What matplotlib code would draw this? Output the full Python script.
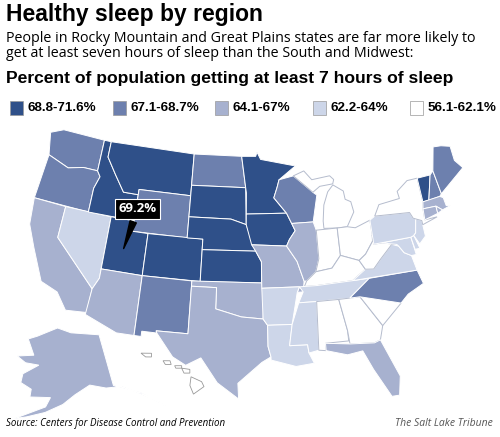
import numpy as np
import matplotlib.pyplot as plt
from matplotlib.patches import Polygon, Rectangle

# ---- datos: clase de color por estado (0 = mas alto ... 4 = mas bajo) ----
rangos = ["68.8-71.6%", "67.1-68.7%", "64.1-67%", "62.2-64%", "56.1-62.1%"]
colores = ["#2f5089", "#6d80ae", "#a7b1cf", "#cdd6e9", "#ffffff"]
estados = ["WA", "OR", "CA", "NV", "ID", "MT", "WY", "UT", "CO", "AZ", "NM",
           "ND", "SD", "NE", "KS", "OK", "TX", "MN", "IA", "MO", "AR", "LA",
           "WI", "IL", "MI", "MI2", "IN", "OH", "KY", "TN", "MS", "AL", "GA",
           "FL", "SC", "NC", "VA", "WV", "MD", "DE", "PA", "NJ", "NY", "VT",
           "NH", "ME", "MA", "CT", "RI", "AK", "HI"]
clase = [1, 1, 2, 3, 0, 0, 1, 0, 0, 2, 1,
         1, 0, 0, 0, 2, 2, 0, 0, 2, 3, 3,
         1, 2, 4, 4, 4, 4, 4, 3, 3, 4, 4,
         2, 4, 1, 3, 4, 3, 3, 3, 3, 4, 0,
         1, 1, 2, 2, 2, 2, 4]
valor_ut = "69.2%"

# ---- contornos simplificados (lon, lat) ----
forma = {
 "WA": [(-124.7,48.4),(-123,49),(-117,49),(-117,46),(-119,46),(-121,45.6),(-124,46.3)],
 "OR": [(-124,46.3),(-121,45.6),(-119,46),(-117,46),(-116.5,45.5),(-117,44.3),(-117,42),(-124.2,42)],
 "CA": [(-124.2,42),(-120,42),(-120,39),(-114.6,35),(-114.7,32.7),(-117.1,32.5),(-118.5,34),(-120.6,34.6),(-122.5,37.5),(-123.8,39.5)],
 "NV": [(-120,42),(-114,42),(-114,36.1),(-114.6,35),(-120,39)],
 "ID": [(-117,49),(-116,49),(-116,47.5),(-114.5,46),(-113,44.5),(-111,44.5),(-111,42),(-117,42),(-117,44.3),(-116.5,45.5),(-117,46)],
 "MT": [(-116,49),(-104,49),(-104,45),(-111,45),(-111,44.5),(-113,44.5),(-114.5,46),(-116,47.5)],
 "WY": [(-111,45),(-104,45),(-104,41),(-111,41)],
 "UT": [(-114,42),(-111,42),(-111,41),(-109,41),(-109,37),(-114,37)],
 "CO": [(-109,41),(-102,41),(-102,37),(-109,37)],
 "AZ": [(-114,37),(-109,37),(-109,31.3),(-111,31.3),(-114.8,32.5),(-114.6,35),(-114,36.1)],
 "NM": [(-109,37),(-103,37),(-103,32),(-106.6,32),(-106.5,31.8),(-108.2,31.8),(-108.2,31.3),(-109,31.3)],
 "ND": [(-104,49),(-97.2,49),(-96.6,46),(-104,46)],
 "SD": [(-104,46),(-96.6,46),(-96.5,42.5),(-98.5,43),(-104,43)],
 "NE": [(-104,43),(-98.5,43),(-96.5,42.5),(-95.3,40),(-102,40),(-102,41),(-104,41)],
 "KS": [(-102,40),(-95.3,40),(-94.6,39),(-94.6,37),(-102,37)],
 "OK": [(-103,37),(-94.6,37),(-94.4,35.4),(-94.5,33.6),(-97,33.8),(-100,34.5),(-100,36.5),(-103,36.5)],
 "TX": [(-103,36.5),(-100,36.5),(-100,34.5),(-97,33.8),(-94.5,33.6),(-94,33),(-94,31),(-93.7,30),(-94.7,29.5),(-97.3,27.5),(-97.2,26),(-99.5,27.5),(-101.4,29.8),(-103,29),(-104.5,29.7),(-106.5,31.8),(-106.6,32),(-103,32)],
 "MN": [(-97.2,49),(-95.2,49),(-95,49.4),(-94.5,48.7),(-90,48),(-89.5,48),(-92,46.7),(-92.3,46),(-92.8,45),(-91.2,43.5),(-96.5,43.5),(-96.5,45.5),(-96.6,46)],
 "IA": [(-96.5,43.5),(-91.2,43.5),(-90.6,42.5),(-90.2,41.8),(-91,41),(-91.4,40.4),(-95.8,40.6),(-96.5,42.5)],
 "MO": [(-95.8,40.6),(-91.4,40.4),(-90.2,38.9),(-89.5,37),(-89.7,36),(-90.4,36),(-90.1,36.5),(-94.6,36.5),(-94.6,39),(-95.3,40)],
 "AR": [(-94.6,36.5),(-90.1,36.5),(-90.4,36),(-91.2,33),(-94,33),(-94.5,33.6)],
 "LA": [(-94,33),(-91.2,33),(-91.6,31),(-89.6,31),(-89.5,30.2),(-89,29.2),(-91,29),(-93.7,29.7),(-93.7,30),(-94,31)],
 "WI": [(-92,46.7),(-90,47),(-88.2,45.8),(-87.5,45.3),(-87,45),(-87.8,42.5),(-90.6,42.5),(-91.2,43.5),(-92.8,45),(-92.3,46)],
 "IL": [(-90.6,42.5),(-87.8,42.5),(-87.5,41.7),(-87.5,39),(-88,37.8),(-89.2,37),(-89.5,37),(-90.2,38.9),(-91.4,40.4),(-91,41),(-90.2,41.8)],
 "MI": [(-86.5,41.8),(-84.8,41.7),(-83.5,41.7),(-82.4,43),(-82.6,44),(-83.3,44.3),(-83.4,45.1),(-84.7,45.8),(-85.5,45.2),(-86.2,44),(-86.5,42.5)],
 "MI2": [(-90,47),(-88.5,47.4),(-87.5,46.5),(-85,46.7),(-84.5,46.3),(-84.7,45.9),(-86.5,45.8),(-87.5,45.3),(-88.2,45.8)],
 "IN": [(-87.5,41.7),(-84.8,41.7),(-84.8,39.1),(-86,38),(-88,37.8),(-87.5,39)],
 "OH": [(-84.8,41.7),(-83.5,41.7),(-82.5,41.5),(-80.5,42),(-80.5,40.6),(-80.6,40),(-81.7,38.9),(-82.6,38.4),(-84.8,39.1)],
 "KY": [(-89.5,36.5),(-88,36.5),(-83.7,36.6),(-82,37.5),(-82.6,38.4),(-84.8,39.1),(-86,38),(-88,37.8),(-89.2,37)],
 "TN": [(-90.1,36.5),(-89.7,36),(-90.3,35),(-88.2,35),(-84.3,35),(-81.7,36.6),(-83.7,36.6),(-88,36.5)],
 "MS": [(-91.2,33),(-90.3,35),(-88.2,35),(-88.4,30.4),(-89.5,30.2),(-89.6,31),(-91.6,31)],
 "AL": [(-88.2,35),(-85.6,35),(-85,32),(-85,31),(-87.6,31),(-87.6,30.3),(-88.4,30.4)],
 "GA": [(-85.6,35),(-83.1,35),(-81,32),(-81.5,30.7),(-82.2,30.5),(-84.9,30.7),(-85,32)],
 "FL": [(-87.6,31),(-84.9,30.7),(-82.2,30.5),(-81.5,30.7),(-80,27),(-80.4,25.2),(-81.2,25.2),(-82.7,28),(-83.6,29.9),(-85.3,29.7),(-87.6,30.3)],
 "SC": [(-83.1,35),(-81,35.1),(-80.8,34.8),(-78.5,33.8),(-81,32)],
 "NC": [(-84.3,35),(-83.1,35),(-78.5,33.8),(-77.5,34.5),(-75.5,35.2),(-75.9,36.55),(-81.7,36.6)],
 "VA": [(-83.7,36.6),(-75.9,36.55),(-76.2,38),(-77,38.4),(-77.5,39.1),(-78.3,39.4),(-80,38.2),(-81,37.4),(-82,37.5)],
 "WV": [(-82.6,38.4),(-82,37.5),(-81,37.4),(-80,38.2),(-78.3,39.4),(-77.7,39.3),(-79.5,39.7),(-80.5,39.7),(-80.5,40.6),(-80.6,40),(-81.7,38.9)],
 "MD": [(-79.5,39.7),(-75.8,39.7),(-75.6,38),(-76.2,38),(-77,38.4),(-77.5,39.1),(-77.7,39.3)],
 "DE": [(-75.8,39.7),(-75.4,39.8),(-75,38.5),(-75.6,38.5)],
 "PA": [(-80.5,42),(-79.8,42.3),(-75.3,42),(-75,41.4),(-74.7,41.3),(-75.1,40),(-75.4,39.8),(-75.8,39.7),(-80.5,39.7)],
 "NJ": [(-75,41.4),(-74,41),(-74,40.5),(-74,39.5),(-74.9,38.9),(-75.4,39.8),(-75.1,40),(-74.7,41.3)],
 "NY": [(-79.8,42.3),(-79,43.3),(-76.2,43.5),(-76.3,44.2),(-74.7,45),(-73.3,45),(-73.3,42.7),(-73.5,42.05),(-73.6,41),(-72,41),(-74,40.6),(-74,41),(-75,41.4),(-75.3,42)],
 "VT": [(-73.3,45),(-71.5,45),(-72.5,42.7),(-73.3,42.7)],
 "NH": [(-71.5,45),(-71,45.3),(-70.7,43),(-71,42.8),(-72.5,42.7)],
 "ME": [(-71,45.3),(-70.1,47.5),(-69,47.4),(-67.8,47.1),(-67.8,45.7),(-67,44.8),(-70.7,43)],
 "MA": [(-73.5,42.05),(-73.3,42.7),(-71,42.8),(-70.6,42.6),(-70.5,41.8),(-70,41.7),(-71.1,41.5),(-71.8,42)],
 "CT": [(-73.5,42.05),(-71.8,42),(-71.8,41.3),(-73.6,41)],
 "RI": [(-71.8,42),(-71.1,41.5),(-71.8,41.3)],
 "AK": [(-141,69.6),(-141,60.3),(-137,59),(-135,58.2),(-131,55),(-132,56),(-136,58.5),(-139,59.9),(-143,60),(-147,60.8),(-151,59.2),(-154,57.5),(-158,56),(-162,55),(-164.5,54.5),(-158,57),(-157,58.7),(-162,58.6),(-162,60),(-165,61),(-165,62.6),(-161,64.4),(-165,64.6),(-168,65.6),(-163,66.1),(-166,68.9),(-163,69.6),(-156,71.3),(-151,70.4)],
}
hawaii = [[(-160.2,22.2),(-159.3,22.2),(-159.3,21.9),(-159.8,21.9)],
          [(-158.3,21.6),(-157.7,21.6),(-157.6,21.3),(-158.1,21.3)],
          [(-157.3,21.2),(-156.7,21.2),(-156.7,21.0),(-157.2,21.0)],
          [(-156.7,21.0),(-156.0,20.9),(-156.0,20.6),(-156.5,20.6)],
          [(-155.9,20.3),(-155.0,19.9),(-154.8,19.5),(-155.7,18.9),(-156.0,19.6)]]


def albers(pts, lon0=-96.0, lat0=23.0, p1=29.5, p2=45.5):
    pts = np.radians(np.array(pts))
    f1, f2, f0, l0 = np.radians([p1, p2, lat0, lon0])
    n = (np.sin(f1) + np.sin(f2)) / 2
    C = np.cos(f1)**2 + 2*n*np.sin(f1)
    rho0 = np.sqrt(C - 2*n*np.sin(f0)) / n
    rho = np.sqrt(C - 2*n*np.sin(pts[:, 1])) / n
    th = n * (pts[:, 0] - l0)
    return np.column_stack([rho*np.sin(th), rho0 - rho*np.cos(th)])


plt.rcParams['font.family'] = ['Open Sans', 'DejaVu Sans']
narrow = ["Liberation Sans Narrow", "Liberation Sans"]
fig = plt.figure(figsize=(5.0, 4.37), dpi=100)

# ***** textos *****
fig.text(0.012, 0.992, "Healthy sleep by region", fontsize=16.5, fontweight="bold",
         va="top", family=narrow)
fig.text(0.012, 0.93, "People in Rocky Mountain and Great Plains states are far more likely to\n"
         "get at least seven hours of sleep than the South and Midwest:",
         fontsize=10.3, va="top", linespacing=1.05)
fig.text(0.012, 0.838, "Percent of population getting at least 7 hours of sleep",
         fontsize=12.6, fontweight="bold", va="top", family=narrow)

# leyenda
xs = [0.02, 0.225, 0.43, 0.625, 0.82]
for x, r, c in zip(xs, rangos, colores):
    fig.patches.append(Rectangle((x, 0.737), 0.026, 0.032, transform=fig.transFigure,
                                 facecolor=c, edgecolor="#999999", lw=0.5))
    fig.text(x + 0.036, 0.753, r, fontsize=9.6, fontweight="bold", va="center",
             family=narrow)

# ***** mapa continental *****
ax = fig.add_axes([0.03, 0.08, 0.925, 0.63])
ax.set_axis_off()
todos = []
for st, k in zip(estados, clase):
    if st in ("AK", "HI"):
        continue
    xy = albers(forma[st])
    todos.append(xy)
    ec = "#b5bccd" if k == 4 else "white"
    ax.add_patch(Polygon(xy, closed=True, facecolor=colores[k], edgecolor=ec, lw=0.7))
todos = np.vstack(todos)
ax.set_xlim(todos[:, 0].min() - 0.005, todos[:, 0].max() + 0.005)
ax.set_ylim(todos[:, 1].min() - 0.005, todos[:, 1].max() + 0.005)
ax.set_aspect("equal")
ax.set_anchor("N")

# etiqueta de Utah
ut = albers([(-111.8, 39.0)])[0]
ax.annotate(valor_ut, xy=ut, xytext=(ut[0] + 0.025, ut[1] + 0.07), color="white",
            fontsize=9.5, fontweight="bold", ha="center", va="center",
            bbox=dict(boxstyle="square,pad=0.25", fc="black", ec="white", lw=0.8),
            arrowprops=dict(arrowstyle="wedge,tail_width=0.5", fc="black", ec="black"))

# ***** Alaska *****
ax2 = fig.add_axes([0.02, 0.035, 0.32, 0.26])
ax2.set_axis_off()
xy = albers(forma["AK"], lon0=-154, lat0=50, p1=55, p2=65)
ax2.add_patch(Polygon(xy, closed=True, facecolor=colores[clase[estados.index("AK")]],
                      edgecolor="white", lw=0.7))
ax2.set_xlim(xy[:, 0].min() - 0.01, xy[:, 0].max() + 0.01)
ax2.set_ylim(xy[:, 1].min() - 0.01, xy[:, 1].max() + 0.01)
ax2.set_aspect(0.7)
ax2.set_anchor("SW")

# ***** Hawaii *****
ax3 = fig.add_axes([0.26, 0.09, 0.17, 0.11])
ax3.set_axis_off()
hi = [albers(p, lon0=-157, lat0=18, p1=8, p2=18) for p in hawaii]
for xy in hi:
    ax3.add_patch(Polygon(xy, closed=True, facecolor=colores[clase[estados.index("HI")]],
                          edgecolor="#999999", lw=0.6))
allhi = np.vstack(hi)
ax3.set_xlim(allhi[:, 0].min() - 0.005, allhi[:, 0].max() + 0.005)
ax3.set_ylim(allhi[:, 1].min() - 0.005, allhi[:, 1].max() + 0.005)
ax3.set_aspect("equal")

fig.text(0.012, 0.018, "Source: Centers for Disease Control and Prevention", fontsize=7,
         style="italic", va="bottom")
fig.text(0.985, 0.018, "The Salt Lake Tribune", fontsize=7.5, style="italic",
         color="#555555", ha="right", va="bottom")

fig.savefig("out.png", dpi=100)
